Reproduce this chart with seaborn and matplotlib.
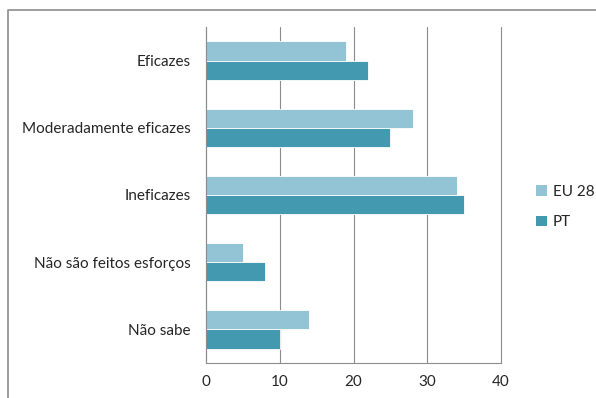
import matplotlib
matplotlib.use("Agg")
import matplotlib.pyplot as plt
from matplotlib.lines import Line2D
from matplotlib.patches import Patch
import seaborn as sns
import pandas as pd

categories = ["Eficazes", "Moderadamente eficazes", "Ineficazes",
              "Não são feitos esforços", "Não sabe"]
series_names = ["EU 28", "PT"]
eu28 = [19, 28, 34, 5, 14]
pt = [22, 25, 35, 8, 10]
x_ticks = [0, 10, 20, 30, 40]

colors = {"EU 28": "#93C4D5", "PT": "#4299B0"}
grid_gray = "#8C8C8C"
text_color = "#262626"

df = pd.DataFrame({
    "categoria": categories * 2,
    "serie": [series_names[0]] * len(categories) + [series_names[1]] * len(categories),
    "valor": eu28 + pt,
})

sns.set_theme(style="white")
plt.rcParams["font.family"] = ["Lato", "DejaVu Sans"]

fig = plt.figure(figsize=(5.96, 3.98), dpi=100)
ax = fig.add_axes([206 / 596, 1 - 363 / 398, (501 - 206) / 596, (363 - 27) / 398])

sns.barplot(data=df, y="categoria", x="valor", hue="serie", order=categories,
            hue_order=series_names, palette=colors, orient="h", width=0.57,
            saturation=1, edgecolor="white", linewidth=0.6, legend=False, ax=ax)

ax.set_xlim(0, 40)
ax.set_ylim(len(categories) - 0.5, -0.5)
ax.set_xticks(x_ticks)
ax.set_xticklabels([str(t) for t in x_ticks], fontsize=11, color=text_color)
ax.set_yticks(range(len(categories)))
ax.set_yticklabels(categories, fontsize=11, color=text_color)
ax.set_yticks([i - 0.5 for i in range(len(categories) + 1)], minor=True)
ax.tick_params(axis="y", which="major", length=0, pad=11)
ax.tick_params(axis="y", which="minor", length=5, color=grid_gray, width=0.8)
ax.tick_params(axis="x", which="major", length=5, color=grid_gray, width=0.8, pad=4)
ax.set_xlabel("")
ax.set_ylabel("")

ax.grid(axis="x", color=grid_gray, linewidth=0.8)
for gl in ax.get_xgridlines():
    gl.set_clip_on(False)
ax.set_axisbelow(True)
for side in ["top", "right"]:
    ax.spines[side].set_visible(False)
for side in ["left", "bottom"]:
    ax.spines[side].set_color(grid_gray)
    ax.spines[side].set_linewidth(0.8)

handles = [Patch(facecolor=colors[s], edgecolor="none") for s in series_names]
fig.legend(handles, series_names, loc="center left",
           bbox_to_anchor=(536 / 596, 1 - 207 / 398), frameon=False,
           borderaxespad=0, borderpad=0,
           fontsize=11, handlelength=0.7, handleheight=0.7, handletextpad=0.4,
           labelspacing=1.1, labelcolor=text_color)

# chart-area frame (top and left edges)
fig.add_artist(Line2D([8 / 596, 8 / 596, 1.0], [0.0, 1 - 10 / 398, 1 - 10 / 398],
                      transform=fig.transFigure, color="#8C8C8C", linewidth=1.2))

fig.savefig("out.png", dpi=100)
